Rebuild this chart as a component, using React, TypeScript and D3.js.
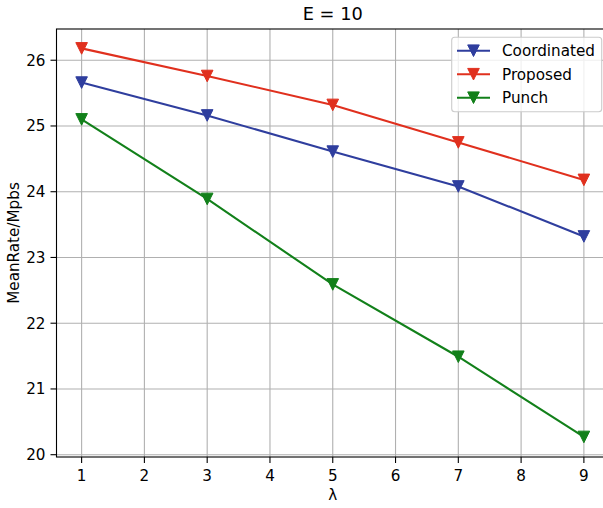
import React from 'react'
import * as d3 from 'd3'

const lambdas = [1, 3, 5, 7, 9]
const coordinated = [25.66, 25.16, 24.61, 24.08, 23.32]
const proposed = [26.18, 25.76, 25.32, 24.75, 24.18]
const punch = [25.1, 23.89, 22.59, 21.49, 20.27]
const xTicks = [1, 2, 3, 4, 5, 6, 7, 8, 9]
const yTicks = [20, 21, 22, 23, 24, 25, 26]

const seriesList = [
  { name: 'Coordinated', color: '#2f3e9e', values: coordinated },
  { name: 'Proposed', color: '#e0301e', values: proposed },
  { name: 'Punch', color: '#12801a', values: punch }
]

const W = 603
const H = 508
const FONT = 'DejaVu Sans, sans-serif'
const FS = 15.2

const tri = (cx: number, cy: number, s: number) =>
  `M${cx - s},${cy - s}L${cx + s},${cy - s}L${cx},${cy + s}Z`

export default function App() {
  const left = 56.5
  const right = 609
  const top = 29
  const bottom = 457

  const x = d3.scaleLinear().domain([0.6, 9.4]).range([left, right])
  const y = d3.scaleLinear().domain([19.965, 26.475]).range([bottom, top])

  const line = d3.line<number>()
    .x((d, i) => x(lambdas[i]))
    .y(d => y(d))

  return (
    <svg width={W} height={H} style={{ position: 'absolute', left: 0, top: 0, background: '#fff' }}
      fontFamily={FONT}>
      <rect x={0} y={0} width={W} height={H} fill='#fff' />
      {/* grid */}
      {xTicks.map(t => (
        <line key={'gx' + t} x1={x(t)} x2={x(t)} y1={top} y2={bottom} stroke='#b0b0b0' strokeWidth={1.1} />
      ))}
      {yTicks.map(t => (
        <line key={'gy' + t} x1={left} x2={right} y1={y(t)} y2={y(t)} stroke='#b0b0b0' strokeWidth={1.1} />
      ))}

      {/* series */}
      {seriesList.map(s => (
        <g key={s.name}>
          <path d={line(s.values) || ''} fill='none' stroke={s.color} strokeWidth={2.1} />
          {s.values.map((v, i) => (
            <path key={i} d={tri(x(lambdas[i]), y(v), 5.8)} fill={s.color} stroke={s.color} strokeWidth={1} />
          ))}
        </g>
      ))}

      {/* spines */}
      <rect x={left} y={top} width={right - left} height={bottom - top} fill='none' stroke='#000' strokeWidth={1.1} />

      {/* x ticks */}
      {xTicks.map(t => (
        <g key={'tx' + t} transform={`translate(${x(t)},${bottom})`}>
          <line y1={0} y2={6} stroke='#000' strokeWidth={1.1} />
          <text y={24} textAnchor='middle' fontSize={FS} fill='#000'>{t}</text>
        </g>
      ))}
      {/* y ticks */}
      {yTicks.map(t => (
        <g key={'ty' + t} transform={`translate(${left},${y(t)})`}>
          <line x1={0} x2={-6} stroke='#000' strokeWidth={1.1} />
          <text x={-11} dy='0.36em' textAnchor='end' fontSize={FS} fill='#000'>{t}</text>
        </g>
      ))}

      {/* labels */}
      <text x={(left + right) / 2} y={20} textAnchor='middle' fontSize={17.8} fill='#000'>E = 10</text>
      <text x={(left + right) / 2} y={500} textAnchor='middle' fontSize={FS} fill='#000'>λ</text>
      <text transform={`translate(19,${(top + bottom) / 2}) rotate(-90)`} textAnchor='middle' fontSize={FS} fill='#000'>MeanRate/Mpbs</text>

      {/* legend */}
      <rect x={451.7} y={37.3} width={150} height={74.4} rx={3} fill='#fff' fillOpacity={0.8} stroke='#cccccc' strokeWidth={1.1} />
      {seriesList.map((s, i) => {
        const ly = 50.7 + i * 23.5
        return (
          <g key={'lg' + s.name}>
            <line x1={457} x2={490} y1={ly} y2={ly} stroke={s.color} strokeWidth={2.1} />
            <path d={tri(473.5, ly, 5.8)} fill={s.color} stroke={s.color} strokeWidth={1} />
            <text x={502} y={ly} dy='0.36em' fontSize={FS} fill='#000'>{s.name}</text>
          </g>
        )
      })}
    </svg>
  )
}
